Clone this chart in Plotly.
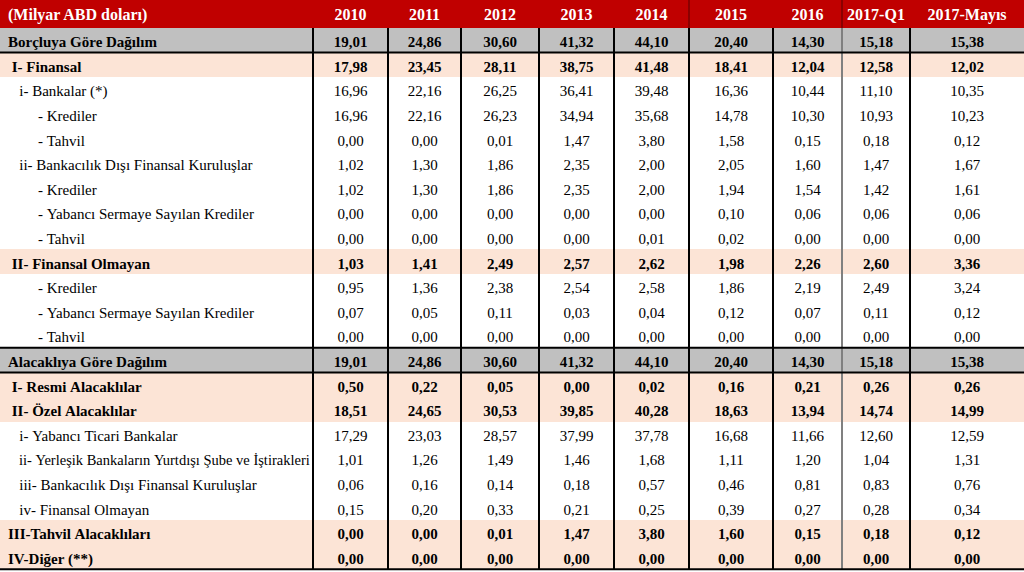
import plotly.graph_objects as go

# ---------------- data ----------------
title_label = "(Milyar ABD doları)"
years = ["2010", "2011", "2012", "2013", "2014", "2015", "2016", "2017-Q1", "2017-Mayıs"]

labels = [
    "Borçluya Göre Dağılım",
    "I- Finansal",
    "i- Bankalar (*)",
    "- Krediler",
    "- Tahvil",
    "ii- Bankacılık Dışı Finansal Kuruluşlar",
    "- Krediler",
    "- Yabancı Sermaye Sayılan Krediler",
    "- Tahvil",
    "II- Finansal Olmayan",
    "- Krediler",
    "- Yabancı Sermaye Sayılan Krediler",
    "- Tahvil",
    "Alacaklıya Göre Dağılım",
    "I- Resmi Alacaklılar",
    "II- Özel Alacaklılar",
    "i- Yabancı Ticari Bankalar",
    "ii- Yerleşik Bankaların Yurtdışı Şube ve İştirakleri",
    "iii- Bankacılık Dışı Finansal Kuruluşlar",
    "iv- Finansal Olmayan",
    "III-Tahvil Alacaklıları",
    "IV-Diğer (**)",
]
# indentation (number of leading spaces) of each label
indents = [0, 1, 3, 8, 8, 3, 8, 8, 8, 1, 8, 8, 8, 0, 1, 1, 3, 3, 3, 3, 0, 0]
# row style: 'total' (gray), 'sub' (peach), 'item' (white)
kinds = ["total", "sub", "item", "item", "item", "item", "item", "item", "item", "sub",
         "item", "item", "item", "total", "sub", "sub", "item", "item", "item", "item",
         "sub", "sub"]

v2010 = [19.01, 17.98, 16.96, 16.96, 0.00, 1.02, 1.02, 0.00, 0.00, 1.03, 0.95, 0.07, 0.00,
         19.01, 0.50, 18.51, 17.29, 1.01, 0.06, 0.15, 0.00, 0.00]
v2011 = [24.86, 23.45, 22.16, 22.16, 0.00, 1.30, 1.30, 0.00, 0.00, 1.41, 1.36, 0.05, 0.00,
         24.86, 0.22, 24.65, 23.03, 1.26, 0.16, 0.20, 0.00, 0.00]
v2012 = [30.60, 28.11, 26.25, 26.23, 0.01, 1.86, 1.86, 0.00, 0.00, 2.49, 2.38, 0.11, 0.00,
         30.60, 0.05, 30.53, 28.57, 1.49, 0.14, 0.33, 0.01, 0.00]
v2013 = [41.32, 38.75, 36.41, 34.94, 1.47, 2.35, 2.35, 0.00, 0.00, 2.57, 2.54, 0.03, 0.00,
         41.32, 0.00, 39.85, 37.99, 1.46, 0.18, 0.21, 1.47, 0.00]
v2014 = [44.10, 41.48, 39.48, 35.68, 3.80, 2.00, 2.00, 0.00, 0.01, 2.62, 2.58, 0.04, 0.00,
         44.10, 0.02, 40.28, 37.78, 1.68, 0.57, 0.25, 3.80, 0.00]
v2015 = [20.40, 18.41, 16.36, 14.78, 1.58, 2.05, 1.94, 0.10, 0.02, 1.98, 1.86, 0.12, 0.00,
         20.40, 0.16, 18.63, 16.68, 1.11, 0.46, 0.39, 1.60, 0.00]
v2016 = [14.30, 12.04, 10.44, 10.30, 0.15, 1.60, 1.54, 0.06, 0.00, 2.26, 2.19, 0.07, 0.00,
         14.30, 0.21, 13.94, 11.66, 1.20, 0.81, 0.27, 0.15, 0.00]
v2017q1 = [15.18, 12.58, 11.10, 10.93, 0.18, 1.47, 1.42, 0.06, 0.00, 2.60, 2.49, 0.11, 0.00,
           15.18, 0.26, 14.74, 12.60, 1.04, 0.83, 0.28, 0.18, 0.00]
v2017may = [15.38, 12.02, 10.35, 10.23, 0.12, 1.67, 1.61, 0.06, 0.00, 3.36, 3.24, 0.12, 0.00,
            15.38, 0.26, 14.99, 12.59, 1.31, 0.76, 0.34, 0.12, 0.00]
value_cols = [v2010, v2011, v2012, v2013, v2014, v2015, v2016, v2017q1, v2017may]

# ---------------- styling ----------------
W, H = 1024, 572
HEADER_H = 28
ROW_H = 24.6
col_widths = [313, 75, 73, 78, 75, 75, 84, 69, 68, 114]
FONT = "Liberation Serif, Times New Roman, serif"
RED = "#C00000"
GRAY = "#C0C0C0"
PEACH = "#FCE4D6"
WHITE = "#FFFFFF"
CLEAR = "rgba(0,0,0,0)"
fill_map = {"total": GRAY, "sub": PEACH, "item": WHITE}
NB = "\u00a0"
LABEL_FIT_LEN = 45  # labels longer than this get a slightly smaller font


def fmt(v):
    return f"{v:.2f}".replace(".", ",")


label_cells = [NB * n + lab.replace(" ", NB) for lab, n in zip(labels, indents)]
columns = [label_cells] + [[fmt(v) for v in col] for col in value_cols]

# text groups: (name, weight, label font size)
groups = [("normal", "normal", 15), ("bold", "bold", 15), ("fit", "normal", 14.5)]


def group_of(lab, kind):
    if kind != "item":
        return "bold"
    if len(lab) > LABEL_FIT_LEN:
        return "fit"
    return "normal"


row_group = [group_of(lab, k) for lab, k in zip(labels, kinds)]

row_fill = [fill_map[k] for k in kinds]
fills = [row_fill for _ in columns]
align = ["left"] + ["center"] * len(years)
header_vals = [title_label] + years

fig = go.Figure()
for gi, (gname, weight, label_size) in enumerate(groups):
    vals = [[(c if g == gname else "") for c, g in zip(col, row_group)] for col in columns]
    base = gi == 0
    fig.add_trace(
        go.Table(
            domain=dict(x=[0, 1], y=[0, 1]),
            columnwidth=col_widths,
            header=dict(
                values=header_vals if base else [""] * len(header_vals),
                fill_color=RED if base else CLEAR,
                line=dict(width=0, color=CLEAR),
                align=align,
                font=dict(family=FONT, size=16, color="white", weight="bold"),
                height=HEADER_H,
            ),
            cells=dict(
                values=vals,
                fill_color=fills if base else CLEAR,
                line=dict(width=0, color=CLEAR),
                align=align,
                font=dict(family=FONT, size=[label_size] + [15] * len(years),
                          color="black", weight=weight),
                height=ROW_H,
            ),
        )
    )

# grid lines derived from column widths and row layout
shapes = []
total_w = sum(col_widths)
n_rows = len(labels)
table_bottom_px = HEADER_H + n_rows * ROW_H


def ypx(p):
    return 1 - p / H


cum = 0
for i, w in enumerate(col_widths[:-1]):
    cum += w
    x = cum / total_w
    color = "#808080" if i == 7 else "black"
    shapes.append(dict(type="line", xref="paper", yref="paper", x0=x, x1=x,
                       y0=ypx(table_bottom_px), y1=ypx(HEADER_H),
                       line=dict(color=color, width=2)))
    if i in (5, 7):
        shapes.append(dict(type="line", xref="paper", yref="paper", x0=x, x1=x,
                           y0=ypx(HEADER_H), y1=1,
                           line=dict(color="#7A0000", width=1.5)))

for r, k in enumerate(kinds):
    if k == "total":
        for edge in (r, r + 1):
            if edge == 0:
                continue
            y = ypx(HEADER_H + edge * ROW_H)
            shapes.append(dict(type="line", xref="paper", yref="paper", x0=0, x1=1,
                               y0=y, y1=y, line=dict(color="black", width=2)))
shapes.append(dict(type="line", xref="paper", yref="paper", x0=0, x1=1,
                   y0=ypx(table_bottom_px), y1=ypx(table_bottom_px),
                   line=dict(color="black", width=2)))

fig.update_layout(
    width=W, height=H,
    margin=dict(l=0, r=0, t=0, b=0),
    paper_bgcolor="white",
    shapes=shapes,
)

fig.write_html(
    "out.html",
    config={"displayModeBar": False},
    post_script="document.body.style.margin='0px';",
)
